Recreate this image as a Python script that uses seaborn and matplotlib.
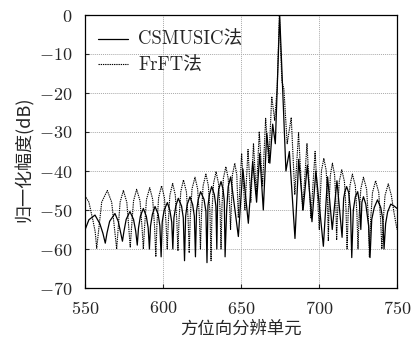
import matplotlib
matplotlib.use("Agg")
import matplotlib.pyplot as plt
import seaborn as sns
import pandas as pd

# ---- data (lobe vertices) ----
frft_x = [550.0, 552.5, 555.0, 556.5, 557.5,
          558.8, 560.7, 564.3, 567.1, 569.0, 570.3,
          571.2, 572.5, 574.6, 576.8, 578.1, 579.0,
          579.8, 581.1, 583.1, 585.3, 586.6, 587.4,
          588.2, 589.4, 591.5, 593.4, 594.6, 595.4,
          596.1, 597.2, 599.1, 600.9, 602.0, 602.7,
          603.4, 604.4, 606.2, 607.9, 608.9, 609.6,
          610.3, 611.4, 613.1, 615.0, 616.1, 616.8,
          617.5, 618.6, 620.5, 622.2, 623.3, 624.0,
          624.7, 625.7, 627.5, 629.1, 630.1, 630.8,
          631.4, 632.4, 634.0, 635.6, 636.6, 637.2,
          637.8, 638.7, 640.3, 641.8, 642.7, 643.3,
          644.5, 646.0, 647.3, 648.3,
          650.4, 652.5, 654.5, 656.3, 658.0, 659.8, 661.7, 663.8, 665.8, 667.8,
          669.7, 671.6, 673.2, 674.6, 676.2, 677.5, 679.6, 682.2, 684.5, 686.9,
          689.5, 692.3, 694.8, 697.5, 700.2,
          700.8, 701.6, 703.1, 704.6, 705.4, 706.0,
          706.5, 707.3, 708.6, 710.0, 710.8, 711.3,
          712.0, 713.0, 714.6, 716.3, 717.3, 718.0,
          718.7, 719.8, 721.4, 723.3, 724.3, 725.0,
          725.7, 726.8, 728.5, 730.5, 731.6, 732.3,
          733.1, 734.3, 736.3, 738.3, 739.5, 740.3,
          741.1, 742.3, 744.4, 746.4, 748.0, 750.0]
frft_y = [-46.3, -48.0, -52.5, -55.5, -59.8,
          -55.0, -48.0, -45.0, -48.0, -55.0, -60.0,
          -55.0, -48.0, -45.0, -48.0, -55.0, -59.5,
          -54.7, -47.7, -44.7, -47.7, -54.7, -60.0,
          -54.3, -47.3, -44.3, -47.3, -54.3, -62.0,
          -53.8, -46.8, -43.8, -46.8, -53.8, -60.0,
          -53.2, -46.2, -43.2, -46.2, -53.2, -60.5,
          -52.3, -45.3, -42.3, -45.3, -52.3, -61.0,
          -51.6, -44.6, -41.6, -44.6, -51.6, -60.0,
          -50.8, -43.8, -40.8, -43.8, -50.8, -63.0,
          -50.2, -43.2, -40.2, -43.2, -50.2, -60.0,
          -48.9, -41.9, -38.9, -41.9, -48.9, -55.0,
          -41.0, -38.0, -41.0, -52.0,
          -35.5, -50.0, -34.5, -48.0, -32.9, -46.0, -29.9, -44.0, -26.5, -38.0,
          -20.9, -27.0, -18.5, 0.0, -17.0, -19.0, -33.0, -26.3, -46.0, -30.2,
          -50.0, -33.0, -52.0, -35.0, -55.0,
          -46.8, -39.8, -36.8, -39.8, -46.8, -58.0,
          -48.0, -41.0, -38.0, -41.0, -48.0, -57.7,
          -49.7, -42.7, -39.7, -42.7, -49.7, -60.0,
          -50.8, -43.8, -40.8, -43.8, -50.8, -60.0,
          -51.6, -44.6, -41.6, -44.6, -51.6, -62.0,
          -52.5, -45.5, -42.5, -45.5, -52.5, -60.0,
          -53.3, -46.3, -43.3, -46.3, -50.5, -55.0]

csm_x = [550.0, 552.5, 556.4, 559.5, 561.5, 563.0,
         564.1, 565.8, 569.2, 571.3, 572.9, 574.0,
         575.0, 576.4, 578.8, 581.1, 582.5, 583.5,
         584.3, 585.5, 587.4, 589.3, 590.5, 591.3,
         592.0, 593.2, 594.9, 596.9, 598.0, 598.8,
         599.5, 600.7, 602.8, 604.4, 605.6, 606.3,
         607.0, 608.2, 609.8, 611.9, 613.0, 613.8,
         614.5, 615.5, 617.3, 619.0, 620.1, 620.8,
         621.5, 622.6, 624.1, 626.3, 627.5, 628.2,
         628.8, 629.8, 631.2, 632.9, 633.9, 634.5,
         635.0, 635.7, 637.2, 638.5, 639.3, 639.8,
         640.8, 641.8, 643.4, 648.3, 651.2, 654.7, 657.5, 660.0, 662.0, 664.3,
         666.5, 668.5, 670.3, 672.0, 674.8, 677.0, 678.8, 681.0, 684.6, 687.0,
         689.8, 692.5, 695.5, 698.0, 702.8, 705.5, 708.5, 711.5, 714.8,
         715.8, 716.6, 717.7, 719.0, 720.2, 721.0,
         722.0, 723.3, 724.8, 725.9, 726.8,
         727.5, 728.5, 730.0, 731.8, 732.7,
         733.8, 735.4, 737.5, 739.6, 740.9, 741.7,
         742.7, 744.0, 746.0, 748.2, 750.0]
csm_y = [-55.1, -52.5, -51.3, -53.5, -56.0, -58.5,
         -55.9, -52.9, -50.9, -52.9, -55.9, -58.0,
         -55.4, -52.4, -50.4, -52.4, -55.4, -59.0,
         -54.6, -51.6, -49.6, -51.6, -54.6, -60.0,
         -54.1, -51.1, -49.1, -51.1, -54.1, -62.0,
         -53.1, -50.1, -48.1, -50.1, -53.1, -60.0,
         -52.0, -49.0, -47.0, -49.0, -52.0, -63.0,
         -51.6, -48.6, -46.6, -48.6, -51.6, -62.0,
         -50.3, -47.3, -45.3, -47.3, -50.3, -63.5,
         -49.0, -46.0, -44.0, -46.0, -49.0, -60.0,
         -47.7, -44.7, -42.7, -44.7, -47.7, -62.0,
         -50.0, -44.0, -41.5, -56.8, -39.5, -53.4, -37.5, -48.0, -35.5, -50.0,
         -30.3, -38.0, -28.0, -33.0, 0.0, -22.0, -40.0, -35.0, -57.3, -37.0,
         -50.0, -38.5, -53.0, -40.0, -59.3, -41.5, -55.0, -42.5, -57.0,
         -47.0, -45.3, -44.0, -45.5, -50.0, -62.2,
         -50.0, -46.6, -45.3, -48.0, -55.0,
         -48.0, -46.6, -48.5, -54.0, -62.2,
         -52.4, -49.4, -47.4, -49.4, -52.4, -60.0,
         -53.5, -50.5, -48.5, -49.0, -49.6]

series_names = ["CSMUSIC法", "FrFT法"]
x_ticks = [550, 600, 650, 700, 750]
y_ticks = [0, -10, -20, -30, -40, -50, -60, -70]
x_label = "方位向分辨单元"
y_label = "归一化幅度(dB)"

sns.set_style("ticks")
plt.rcParams["font.family"] = ["cmr10", "Noto Sans CJK SC"]
plt.rcParams["axes.formatter.use_mathtext"] = True
plt.rcParams["mathtext.fontset"] = "cm"
plt.rcParams["axes.unicode_minus"] = True

fig = plt.figure(figsize=(4.11, 3.44), dpi=100)
ax = fig.add_axes([85 / 411, 1 - 288 / 344, (397 - 85) / 411, (288 - 15) / 344])

df_c = pd.DataFrame({"x": csm_x, "y": csm_y})
df_f = pd.DataFrame({"x": frft_x, "y": frft_y})
sns.lineplot(data=df_c, x="x", y="y", ax=ax, color="black", lw=0.9,
             label=series_names[0], sort=False, estimator=None)
sns.lineplot(data=df_f, x="x", y="y", ax=ax, color="black", lw=0.8,
             linestyle=(0, (1.2, 0.8)), label=series_names[1], sort=False,
             estimator=None)

ax.set_xlim(550, 750)
ax.set_ylim(-70, 0)
ax.set_xticks(x_ticks)
ax.set_yticks(y_ticks)
ax.grid(True, color="#aaaaaa", linestyle=(0, (1, 1)), lw=0.7)
ax.tick_params(direction="in", length=3, width=0.8, labelsize=13,
               top=False, right=False)
ax.tick_params(axis="x", pad=8.5)
ax.tick_params(axis="y", pad=9)
for s in ax.spines.values():
    s.set_color("black")
    s.set_linewidth(0.9)
    s.set_visible(True)

ax.set_xlabel(x_label, fontsize=12.5, family=["Noto Sans CJK SC"])
ax.set_ylabel(y_label, fontsize=13, family=["Noto Sans CJK SC", "cmr10"])
ax.xaxis.set_label_coords(0.5, -0.118)
ax.yaxis.set_label_coords(-0.165, 0.47)

leg = ax.legend(loc="upper left", frameon=False,
                bbox_to_anchor=((98 - 85) / 312, 0.94),
                borderaxespad=0, borderpad=0,
                handlelength=1.6, handletextpad=0.55,
                labelspacing=0.4,
                prop={"family": ["cmr10", "Noto Sans CJK SC"], "size": 13.5})

fig.savefig("out.png", dpi=100)
